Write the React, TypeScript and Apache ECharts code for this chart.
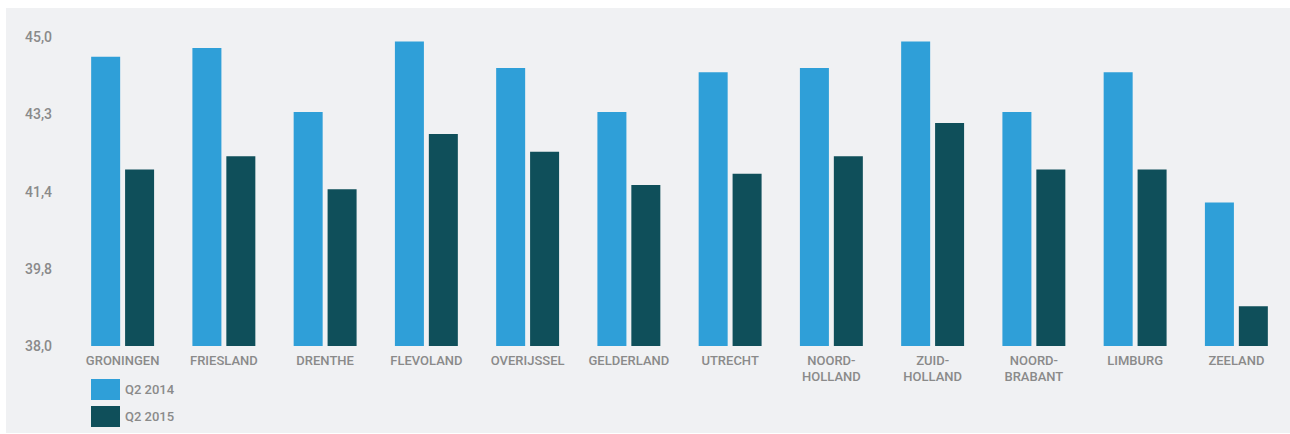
import React, { useEffect, useRef } from "react";
import * as echarts from "echarts";

const categories = [
  "GRONINGEN",
  "FRIESLAND",
  "DRENTHE",
  "FLEVOLAND",
  "OVERIJSSEL",
  "GELDERLAND",
  "UTRECHT",
  "NOORD-\nHOLLAND",
  "ZUID-\nHOLLAND",
  "NOORD-\nBRABANT",
  "LIMBURG",
  "ZEELAND",
];
const q2014 = [44.55, 44.75, 43.3, 44.9, 44.3, 43.3, 44.2, 44.3, 44.9, 43.3, 44.2, 41.25];
const q2015 = [42.0, 42.3, 41.55, 42.8, 42.4, 41.65, 41.9, 42.3, 43.05, 42.0, 42.0, 38.9];
const tickValues = [38, 39.75, 41.5, 43.25, 45];
const tickLabels = ["38,0", "39,8", "41,4", "43,3", "45,0"];

export default function App() {
  const ref = useRef<HTMLDivElement>(null);
  useEffect(() => {
    if (!ref.current) return;
    const chart = echarts.init(ref.current, undefined, { renderer: "svg" });
    const font = "Roboto, 'Noto Sans', sans-serif";
    chart.setOption({
      animation: false,
      backgroundColor: "#f0f1f3",
      textStyle: { fontFamily: font },
      grid: { left: 66, right: 3, top: 29, bottom: 87, containLabel: false },
      legend: {
        orient: "vertical",
        left: 85,
        top: 371,
        padding: 0,
        itemWidth: 29,
        itemHeight: 21,
        itemGap: 6,
        icon: "rect",
        textStyle: { color: "#8a8a8a", fontSize: 13, fontWeight: 500, fontFamily: font },
        data: ["Q2 2014", "Q2 2015"],
      },
      xAxis: {
        type: "category",
        data: categories,
        axisLine: { show: false },
        axisTick: { show: false },
        axisLabel: {
          color: "#8a8a8a",
          fontSize: 13,
          fontWeight: 500,
          fontFamily: font,
          margin: 6,
          lineHeight: 16,
          interval: 0,
        },
      },
      yAxis: {
        type: "value",
        min: 38,
        max: 45,
        splitLine: { show: false },
        axisLine: { show: false },
        axisTick: { show: false },
        axisLabel: {
          customValues: tickValues,
          color: "#8a8a8a",
          fontSize: 14,
          fontWeight: 500,
          fontFamily: font,
          margin: 20,
          formatter: (v: number) => {
            let best = 0;
            tickValues.forEach((t, i) => {
              if (Math.abs(t - v) < Math.abs(tickValues[best] - v)) best = i;
            });
            return tickLabels[best];
          },
        },
      },
      series: [
        {
          name: "Q2 2014",
          type: "bar",
          data: q2014,
          barWidth: 29,
          barGap: "17%",
          itemStyle: { color: "#2f9fd8" },
        },
        {
          name: "Q2 2015",
          type: "bar",
          data: q2015,
          barWidth: 29,
          itemStyle: { color: "#0f4f5a" },
        },
      ],
    });
    return () => chart.dispose();
  }, []);
  return (
    <div
      ref={ref}
      style={{ position: "absolute", left: 6, top: 8, width: 1284, height: 425 }}
    />
  );
}
